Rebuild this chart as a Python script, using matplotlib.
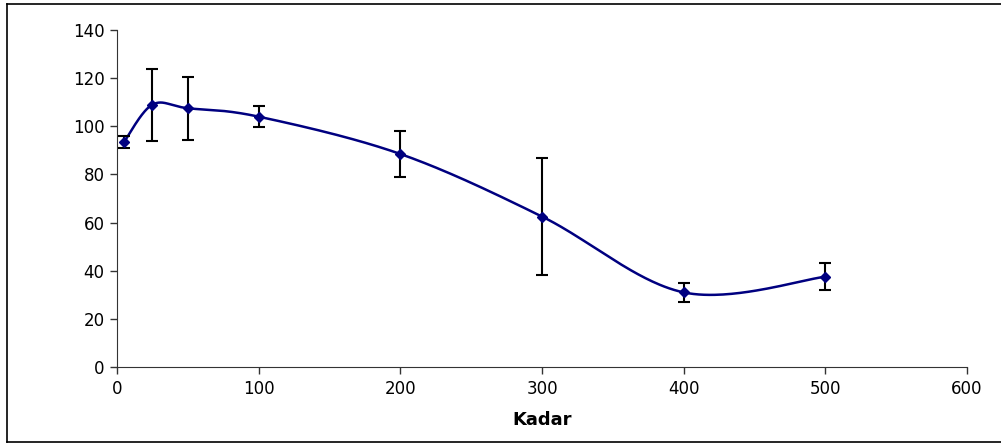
import matplotlib.pyplot as plt
import numpy as np
from matplotlib.lines import Line2D

# Data
kadar = [5, 25, 50, 100, 200, 300, 400, 500]
nilai = [93.5, 109, 107.5, 104, 88.5, 62.5, 31, 37.5]
galat = [2.5, 15, 13, 4.3, 9.5, 24.3, 4, 5.5]

x_ticks = [0, 100, 200, 300, 400, 500, 600]
y_ticks = [0, 20, 40, 60, 80, 100, 120, 140]
navy = '#000080'


def smooth_line(xs, ys, n=60):
    # Excel-style smoothed line: Catmull-Rom via cubic Bezier segments
    pts = np.column_stack([xs, ys]).astype(float)
    pts = np.vstack([pts[0], pts, pts[-1]])
    out = []
    for i in range(1, len(pts) - 2):
        p0, p1, p2, p3 = pts[i - 1], pts[i], pts[i + 1], pts[i + 2]
        c1 = p1 + (p2 - p0) / 6
        c2 = p2 - (p3 - p1) / 6
        t = np.linspace(0, 1, n)[:, None]
        seg = ((1 - t) ** 3) * p1 + 3 * ((1 - t) ** 2) * t * c1 + 3 * (1 - t) * t ** 2 * c2 + t ** 3 * p2
        out.append(seg)
    out = np.vstack(out)
    return out[:, 0], out[:, 1]


fig = plt.figure(figsize=(10.01, 4.43), dpi=100)
ax = fig.add_axes([117 / 1001, 1 - 367 / 443, 850 / 1001, 337 / 443])

sx, sy = smooth_line(kadar, nilai)
ax.plot(sx, sy, color=navy, lw=1.8, zorder=2)
ax.errorbar(kadar, nilai, yerr=galat, fmt='none', ecolor='black', elinewidth=1.5,
            capsize=4.3, capthick=1.5, zorder=3)
ax.plot(kadar, nilai, linestyle='none', marker='D', markersize=5.5, color=navy, zorder=4)

ax.set_xlim(0, 600)
ax.set_ylim(0, 140)
ax.set_xticks(x_ticks)
ax.set_yticks(y_ticks)
ax.tick_params(direction='out', length=5, width=1, labelsize=12, colors='#333333',
               labelcolor='black', pad=4)
for s in ['top', 'right']:
    ax.spines[s].set_visible(False)
for s in ['left', 'bottom']:
    ax.spines[s].set_color('#333333')
ax.set_xlabel('Kadar', fontsize=13, fontweight='bold', labelpad=10)

# chart area border
x0, y0, y1 = 7 / 1001, 1.5 / 443, 1 - 4 / 443
for xs, ys in [([x0, 1], [y1, y1]), ([x0, x0], [y0, y1]), ([x0, 1], [y0, y0])]:
    fig.add_artist(Line2D(xs, ys, transform=fig.transFigure, color='black', lw=1.2))

fig.savefig('out.png', dpi=100)
